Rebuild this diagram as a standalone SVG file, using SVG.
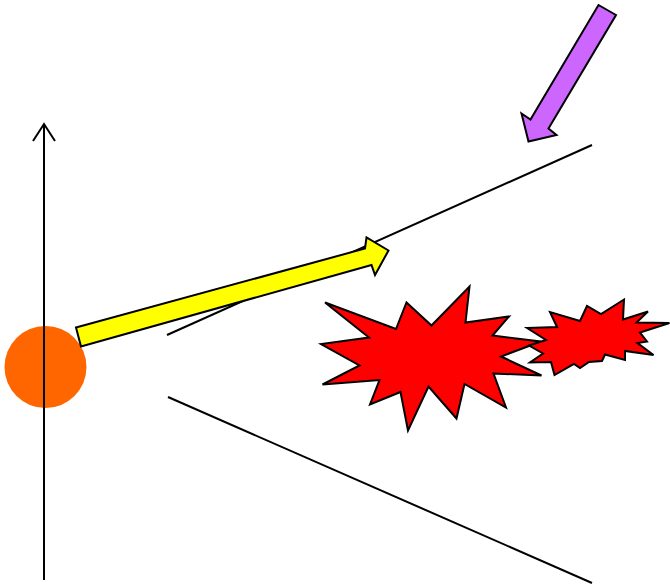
<svg xmlns="http://www.w3.org/2000/svg" width="670" height="586" viewBox="0 0 670 586">
<style>
.ln{fill:none;stroke:#000;stroke-width:2}
.shape{stroke:#000;stroke-width:2;stroke-linejoin:miter}
.boom{fill:#FF0000}
</style>
<rect width="670" height="586" fill="#fff"/>
<circle id="ball" cx="45.5" cy="367" r="41" fill="#FF6600"/>
<g id="axis">
<line class="ln" x1="44" y1="580" x2="44" y2="124"/>
<polyline class="ln" points="33,141 44,124 55,141"/>
</g>
<line class="ln" x1="167" y1="335" x2="592" y2="145"/>
<line class="ln" x1="168" y1="397" x2="592" y2="583"/>
<polygon id="yellow-arrow" class="shape" fill="#FFFF00" points="76,327.5 365,248.5 366.5,237.5 388.5,250.5 375,275 371.5,265 81,346.5"/>
<polygon id="purple-arrow" class="shape" fill="#CC66FF" points="598.5,5 616,15 548.5,128.5 556.5,135 528.5,141.5 521.5,113.5 530.5,119.5"/>
<polygon id="big-explosion" class="shape boom" points="325,302.5 396,329 406.5,302.5 431.5,325.5 469.5,286.5 465.5,322.5 509,316.5 492.5,335.5 541,341.5 501,356.5 541.5,375.5 493.5,373.5 506,407.5 464.5,384 456.5,418.5 428.5,386.5 408,430.5 400.5,392 370,404.5 379.5,380 322.5,384.5 359.5,365.5 321,344 369,337.5"/>
<polygon id="small-explosion" class="shape boom" points="527,328 557,327 550,312 580,321 587,306 601,314 624,299.5 623,319.5 648,311.5 636.5,322.5 669.5,323 640,332.5 647,341.5 637.5,343 653.5,355 625,351 625,360 605,354.5 602,361 589,362 580,368 574,364 554.5,375 551,362 530,362.5 543,353.5 529,345.5 546,340"/>
</svg>
